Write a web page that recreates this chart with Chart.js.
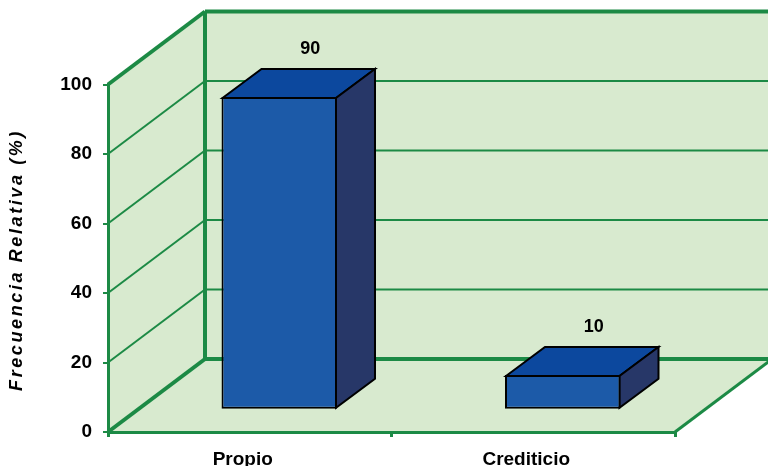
<!DOCTYPE html>
<html>
<head>
<meta charset="utf-8">
<style>
  html, body { margin: 0; padding: 0; background: #fff; }
  canvas { display: block; }
</style>
<script src="https://cdn.jsdelivr.net/npm/chart.js@4"></script>
</head>
<body>
<canvas id="chart" width="768" height="466"></canvas>
<script>
const categories = ['Propio', 'Crediticio'];
const values = [90, 10];
const yTicks = [0, 20, 40, 60, 80, 100];
const yTitle = 'Frecuencia Relativa (%)';

const green = '#1c8a45';
const wallColor = '#d8eacf';
const frontColor = '#1c5aa8';
const topColor = '#0c489e';
const sideColor = '#273768';
const fontName = '"Liberation Sans", Arial, sans-serif';

// depth of the fake 3D box
const wallDx = 97, wallDy = -73;
const barShiftX = 29.5, barShiftY = -22.3;
const barDx = 39, barDy = -29;

function poly(ctx, pts, fill, stroke, width) {
  ctx.beginPath();
  pts.forEach((p, i) => i ? ctx.lineTo(p[0], p[1]) : ctx.moveTo(p[0], p[1]));
  ctx.closePath();
  if (fill) { ctx.fillStyle = fill; ctx.fill(); }
  if (stroke) { ctx.strokeStyle = stroke; ctx.lineWidth = width; ctx.lineJoin = 'miter'; ctx.stroke(); }
}

function line(ctx, x1, y1, x2, y2, width) {
  ctx.beginPath();
  ctx.moveTo(x1, y1);
  ctx.lineTo(x2, y2);
  ctx.strokeStyle = green;
  ctx.lineWidth = width;
  ctx.stroke();
}

const box3d = {
  id: 'box3d',
  beforeDraw(chart) {
    const ctx = chart.ctx, y = chart.scales.y, x = chart.scales.x;
    const l = x.left, r = x.right;
    const top = y.getPixelForValue(100), bot = y.getPixelForValue(0);
    ctx.save();
    // walls and floor
    poly(ctx, [[l, top], [l + wallDx, top + wallDy], [l + wallDx, bot + wallDy], [l, bot]], wallColor);
    poly(ctx, [[l + wallDx, top + wallDy], [r + wallDx, top + wallDy], [r + wallDx, bot + wallDy], [l + wallDx, bot + wallDy]], wallColor);
    poly(ctx, [[l, bot], [l + wallDx, bot + wallDy], [r + wallDx, bot + wallDy], [r, bot]], wallColor);
    // grid lines wrapping the left and back walls
    yTicks.forEach(v => {
      const py = y.getPixelForValue(v);
      const thick = v === 0 || v === 100;
      line(ctx, l, py, l + wallDx, py + wallDy, thick ? 4 : 2);
      line(ctx, l + wallDx, py + wallDy, r + wallDx, py + wallDy, thick ? 4 : 2);
    });
    line(ctx, l + wallDx, top + wallDy, l + wallDx, bot + wallDy, 4);
    line(ctx, r, bot, r + wallDx, bot + wallDy, 3);
    ctx.restore();
  },
  beforeDatasetsDraw(chart) {
    const ctx = chart.ctx;
    ctx.save();
    // top and side faces from the library's bar positions (its border sits inside the bar)
    chart.getDatasetMeta(0).data.forEach(bar => {
      const x1 = bar.x - bar.width / 2 + barShiftX + 1, x2 = bar.x + bar.width / 2 + barShiftX - 1;
      const yt = bar.y + barShiftY + 1, yb = bar.base + barShiftY - 1;
      poly(ctx, [[x1, yt], [x1 + barDx, yt + barDy], [x2 + barDx, yt + barDy], [x2, yt]], topColor, '#000', 2);
      poly(ctx, [[x2, yt], [x2 + barDx, yt + barDy], [x2 + barDx, yb + barDy], [x2, yb]], sideColor, '#000', 2);
    });
    ctx.translate(barShiftX, barShiftY);
  },
  afterDatasetsDraw(chart) {
    const ctx = chart.ctx;
    ctx.restore();
    ctx.save();
    ctx.fillStyle = '#000';
    ctx.font = 'bold 18px ' + fontName;
    ctx.textAlign = 'center';
    ctx.textBaseline = 'middle';
    chart.getDatasetMeta(0).data.forEach((bar, i) => {
      ctx.fillText(String(values[i]), bar.x + barShiftX + 31, bar.y + barShiftY - 48);
    });
    // axis title, spaced out like the original
    ctx.translate(17, 260);
    ctx.rotate(-Math.PI / 2);
    ctx.letterSpacing = '2.6px';
    ctx.font = 'italic bold 18px ' + fontName;
    ctx.fillText(yTitle, 0, 0);
    ctx.restore();
  }
};

new Chart(document.getElementById('chart'), {
  type: 'bar',
  data: {
    labels: categories,
    datasets: [{
      data: values,
      backgroundColor: frontColor,
      borderColor: '#000',
      borderWidth: 2,
      borderSkipped: false,
      categoryPercentage: 1,
      barPercentage: 0.4074
    }]
  },
  options: {
    responsive: false,
    animation: false,
    layout: { padding: { top: 84.5, right: 93 } },
    plugins: { legend: { display: false }, tooltip: { enabled: false } },
    scales: {
      x: {
        afterFit: s => { s.height = 34; },
        border: { color: green, width: 3 },
        grid: { drawOnChartArea: false, color: green, lineWidth: 3, tickLength: 5 },
        ticks: {
          color: '#000',
          padding: 11,
          labelOffset: -7,
          maxRotation: 0,
          font: { family: fontName, size: 19, weight: 'bold' }
        }
      },
      y: {
        min: 0,
        max: 100,
        afterFit: s => { s.width = 108; },
        afterBuildTicks: s => { s.ticks = yTicks.map(v => ({ value: v })); },
        border: { color: green, width: 3 },
        grid: { drawOnChartArea: false, color: green, lineWidth: 2, tickLength: 5 },
        ticks: {
          color: '#000',
          padding: 11,
          font: { family: fontName, size: 19, weight: 'bold' }
        }
      }
    }
  },
  plugins: [box3d]
});
</script>
</body>
</html>
